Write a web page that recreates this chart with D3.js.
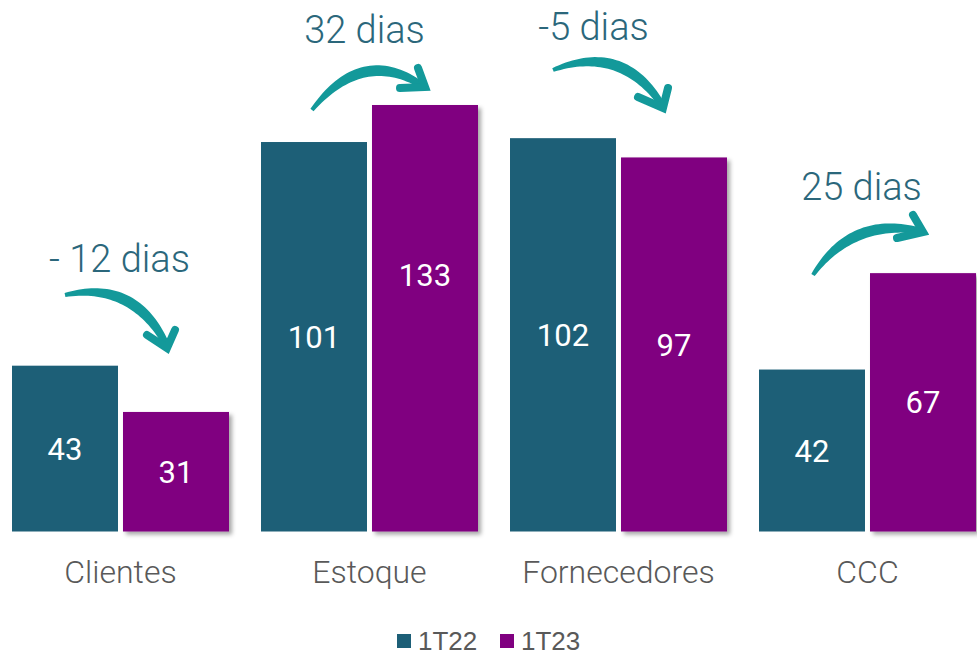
<!DOCTYPE html>
<html>
<head>
<meta charset="utf-8">
<script src="https://cdn.jsdelivr.net/npm/d3@7"></script>
<style>
  html, body { margin: 0; padding: 0; background: #fff; }
  svg { display: block; }
</style>
</head>
<body>
<svg id="chart" width="977" height="655"></svg>
<script>
// Ciclo de conversão de caixa (dias)
const categories = ["Clientes", "Estoque", "Fornecedores", "CCC"];
const seriesNames = ["1T22", "1T23"];
const values1T22 = [43, 101, 102, 42];
const values1T23 = [31, 133, 97, 67];
const changeLabels = ["- 12 dias", "32 dias", "-5 dias", "25 dias"];

// Axis ceiling: bars taller than this are clamped at the top of the plot
const yMax = 110.6;

const colors = { "1T22": "#1d5f77", "1T23": "#800080" };
const arrowColor = "#13999a";
const noteColor = "#2b677b";
const labelGray = "#595959";

const width = 977, height = 655;
const svg = d3.select("#chart");

const defs = svg.append("defs");
const shadow = defs.append("filter").attr("id", "barShadow")
  .attr("x", "-10%").attr("y", "-10%").attr("width", "130%").attr("height", "130%");
shadow.append("feDropShadow")
  .attr("dx", 3).attr("dy", 3).attr("stdDeviation", 2)
  .attr("flood-color", "#000").attr("flood-opacity", 0.35);

const x0 = d3.scaleBand().domain(categories).range([12, 976])
  .paddingInner(32 / 249).paddingOuter(0);
const x1 = d3.scaleBand().domain(seriesNames).range([0, x0.bandwidth()])
  .paddingInner(5 / 111).paddingOuter(0);
const y = d3.scaleLinear().domain([0, yMax]).range([531.5, 105]).clamp(true);
const yFree = y.copy().clamp(false);

const rows = categories.map((c, i) => ({
  category: c,
  bars: [
    { key: "1T22", value: values1T22[i] },
    { key: "1T23", value: values1T23[i] }
  ],
  note: changeLabels[i]
}));

const groups = svg.append("g").selectAll("g.group")
  .data(rows).join("g")
  .attr("class", "group")
  .attr("transform", d => `translate(${x0(d.category)},0)`);

groups.selectAll("rect")
  .data(d => d.bars).join("rect")
  .attr("x", d => x1(d.key))
  .attr("y", d => y(d.value))
  .attr("width", x1.bandwidth())
  .attr("height", d => y(0) - y(d.value))
  .attr("fill", d => colors[d.key])
  .attr("filter", d => d.key === "1T23" ? "url(#barShadow)" : null);

// value labels, centred on the full (unclamped) bar height
groups.selectAll("text.value")
  .data(d => d.bars).join("text")
  .attr("class", "value")
  .attr("x", d => x1(d.key) + x1.bandwidth() / 2)
  .attr("y", d => (yFree(d.value) + yFree(0)) / 2)
  .attr("dy", "0.36em")
  .attr("text-anchor", "middle")
  .attr("fill", "#fff")
  .style("font-family", "Roboto, sans-serif")
  .style("font-weight", 400)
  .style("font-size", "31px")
  .text(d => d.value);

// category labels
svg.append("g").selectAll("text")
  .data(categories).join("text")
  .attr("x", d => x0(d) + x0.bandwidth() / 2)
  .attr("y", 583)
  .attr("text-anchor", "middle")
  .attr("fill", labelGray)
  .style("font-family", "Roboto, sans-serif")
  .style("font-weight", 300)
  .style("font-size", "32px")
  .text(d => d);

// change annotations: curved arrows between the two periods
// arrow geometry is given relative to the group centre
const arrowShapes = [
  { text: [-1, 272], p0: [-55.5, 295], c: [13.5, 280], p2: [46, 345], w1: [26.5, 335], w2: [54.5, 330], tip: [46.5, 348] },
  { text: [-5, 43],  p0: [-57.5, 110], c: [-7, 46],    p2: [53.5, 86], w1: [30.5, 88],  w2: [48.5, 68],  tip: [55.5, 87] },
  { text: [-25, 40], p0: [-65.5, 70],  c: [3.5, 43],   p2: [43.5, 105], w1: [19.5, 97], w2: [49.5, 88],  tip: [44.5, 108] },
  { text: [-6, 200], p0: [-54.5, 275], c: [-15.5, 216.5], p2: [53.5, 231], w1: [29.5, 238], w2: [45.5, 215], tip: [55.5, 232] }
];

function taperedCurve(p0, c, p2) {
  const n = 40, left = [], right = [];
  for (let i = 0; i <= n; i++) {
    const t = i / n, mt = 1 - t;
    const px = mt * mt * p0[0] + 2 * mt * t * c[0] + t * t * p2[0];
    const py = mt * mt * p0[1] + 2 * mt * t * c[1] + t * t * p2[1];
    const dx = 2 * mt * (c[0] - p0[0]) + 2 * t * (p2[0] - c[0]);
    const dy = 2 * mt * (c[1] - p0[1]) + 2 * t * (p2[1] - c[1]);
    const len = Math.hypot(dx, dy) || 1;
    const nx = -dy / len, ny = dx / len;
    const w = (4 + 5.5 * Math.sin(Math.PI * t) + 2.5 * t) / 2;
    left.push([px + nx * w, py + ny * w]);
    right.push([px - nx * w, py - ny * w]);
  }
  return "M" + left.map(p => p.join(",")).join("L") +
         "L" + right.reverse().map(p => p.join(",")).join("L") + "Z";
}

const notes = svg.append("g").selectAll("g.note")
  .data(rows).join("g")
  .attr("class", "note")
  .attr("transform", d => `translate(${x0(d.category) + x0.bandwidth() / 2},0)`);

notes.append("path")
  .attr("d", (d, i) => {
    const s = arrowShapes[i];
    return taperedCurve(s.p0, s.c, s.p2);
  })
  .attr("fill", arrowColor);

notes.append("polyline")
  .attr("points", (d, i) => {
    const s = arrowShapes[i];
    return [s.w1, s.tip, s.w2].map(p => p.join(",")).join(" ");
  })
  .attr("fill", "none")
  .attr("stroke", arrowColor)
  .attr("stroke-width", 8)
  .attr("stroke-linecap", "round")
  .attr("stroke-linejoin", "miter");

notes.append("text")
  .attr("x", (d, i) => arrowShapes[i].text[0])
  .attr("y", (d, i) => arrowShapes[i].text[1])
  .attr("text-anchor", "middle")
  .attr("fill", noteColor)
  .style("font-family", "Roboto, sans-serif")
  .style("font-weight", 300)
  .style("font-size", "38px")
  .text(d => d.note);

// legend
const legend = svg.append("g").attr("transform", "translate(397,634)");
const legendItems = legend.selectAll("g")
  .data(seriesNames).join("g")
  .attr("transform", (d, i) => `translate(${i * 103},0)`);
legendItems.append("rect")
  .attr("width", 14).attr("height", 14)
  .attr("fill", d => colors[d]);
legendItems.append("text")
  .attr("x", 21).attr("y", 16)
  .attr("fill", labelGray)
  .style("font-family", "'Liberation Sans', Arial, sans-serif")
  .style("font-size", "26px")
  .text(d => d);
</script>
</body>
</html>
